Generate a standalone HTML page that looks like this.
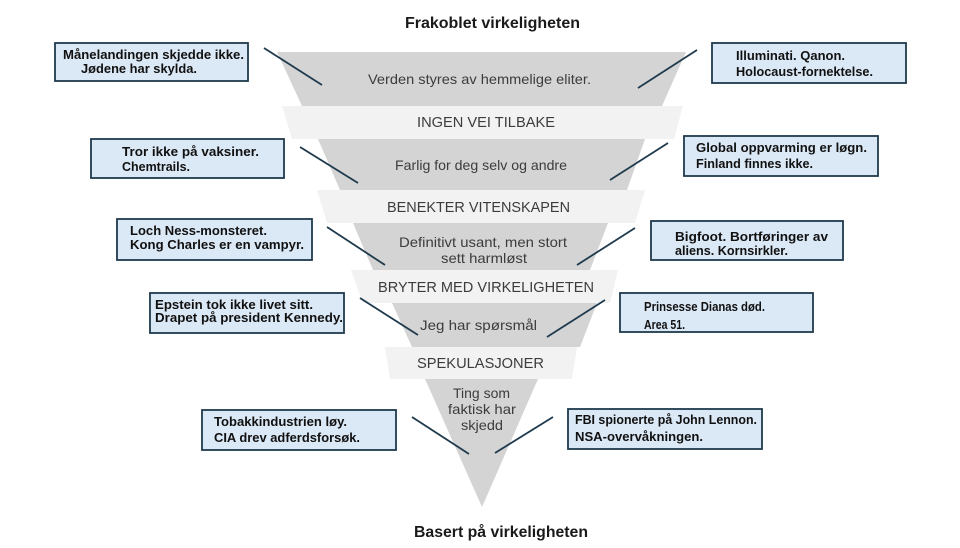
<!DOCTYPE html>
<html>
<head>
<meta charset="utf-8">
<style>
  html, body { margin: 0; padding: 0; background: #ffffff; }
  body { width: 960px; height: 548px; overflow: hidden; }
  svg { display: block; }
  .lbl { font-family: "Liberation Sans", "DejaVu Sans", sans-serif; fill: #3c3c3c; }
  .bx  { font-family: "Liberation Sans", "DejaVu Sans", sans-serif; font-weight: bold; fill: #111111; font-size: 13px; }
  .ttl { font-family: "Liberation Sans", "DejaVu Sans", sans-serif; font-weight: bold; fill: #1a1a1a; font-size: 15.5px; }
  .box { fill: #dbe8f6; stroke: #1f3a4d; stroke-width: 1.8; }
  .ln  { stroke: #1f3a4d; stroke-width: 1.8; fill: none; }
</style>
</head>
<body>
<svg width="960" height="548" viewBox="0 0 960 548" xmlns="http://www.w3.org/2000/svg">
  <!-- Titles -->
  <text class="ttl" x="405" y="28" textLength="175" lengthAdjust="spacingAndGlyphs">Frakoblet virkeligheten</text>
  <text class="ttl" x="414" y="537" textLength="174" lengthAdjust="spacingAndGlyphs">Basert på virkeligheten</text>

  <!-- Funnel -->
  <polygon points="277,52 686,52 662,106 302,106" fill="#d4d4d4"/>
  <polygon points="282,106 683,106 674,139 292,139" fill="#f2f2f2"/>
  <polygon points="318,139 645,139 627,190 340,190" fill="#d4d4d4"/>
  <polygon points="317,190 645,190 635,223 327,223" fill="#f2f2f2"/>
  <polygon points="353,223 608,223 590,270 373,270" fill="#d4d4d4"/>
  <polygon points="351,270 618,270 610,303 363,303" fill="#f2f2f2"/>
  <polygon points="392,303 597,303 580,347 412,347" fill="#d4d4d4"/>
  <polygon points="385,347 577,347 572,379 390,379" fill="#f2f2f2"/>
  <polygon points="425,379 538,379 482,507" fill="#d4d4d4"/>

  <!-- Funnel labels -->
  <text class="lbl" x="368" y="84" font-size="14" textLength="223" lengthAdjust="spacingAndGlyphs">Verden styres av hemmelige eliter.</text>
  <text class="lbl" x="417" y="127" font-size="14.5" textLength="138" lengthAdjust="spacingAndGlyphs">INGEN VEI TILBAKE</text>
  <text class="lbl" x="395" y="170" font-size="14" textLength="172" lengthAdjust="spacingAndGlyphs">Farlig for deg selv og andre</text>
  <text class="lbl" x="387" y="212" font-size="14.5" textLength="183" lengthAdjust="spacingAndGlyphs">BENEKTER VITENSKAPEN</text>
  <text class="lbl" x="399" y="247" font-size="14" textLength="168" lengthAdjust="spacingAndGlyphs">Definitivt usant, men stort</text>
  <text class="lbl" x="441" y="263" font-size="14" textLength="86" lengthAdjust="spacingAndGlyphs">sett harmløst</text>
  <text class="lbl" x="378" y="292" font-size="14.5" textLength="216" lengthAdjust="spacingAndGlyphs">BRYTER MED VIRKELIGHETEN</text>
  <text class="lbl" x="420" y="330" font-size="14" textLength="117" lengthAdjust="spacingAndGlyphs">Jeg har spørsmål</text>
  <text class="lbl" x="417" y="368" font-size="14.5" textLength="127" lengthAdjust="spacingAndGlyphs">SPEKULASJONER</text>
  <text class="lbl" x="453" y="398" font-size="14" textLength="57" lengthAdjust="spacingAndGlyphs">Ting som</text>
  <text class="lbl" x="448" y="414" font-size="14" textLength="68" lengthAdjust="spacingAndGlyphs">faktisk har</text>
  <text class="lbl" x="461" y="430" font-size="14" textLength="42" lengthAdjust="spacingAndGlyphs">skjedd</text>

  <!-- Connectors -->
  <line class="ln" x1="264" y1="48" x2="322" y2="85"/>
  <line class="ln" x1="300" y1="147" x2="358" y2="183"/>
  <line class="ln" x1="327" y1="227" x2="385" y2="265"/>
  <line class="ln" x1="360" y1="298" x2="418" y2="335"/>
  <line class="ln" x1="412" y1="417" x2="469" y2="454"/>
  <line class="ln" x1="697" y1="50" x2="638" y2="88"/>
  <line class="ln" x1="668" y1="143" x2="610" y2="180"/>
  <line class="ln" x1="635" y1="228" x2="577" y2="265"/>
  <line class="ln" x1="605" y1="300" x2="547" y2="337"/>
  <line class="ln" x1="553" y1="417" x2="495" y2="453"/>

  <!-- Left boxes -->
  <rect class="box" x="55" y="43" width="193" height="38"/>
  <text class="bx" x="63" y="59" textLength="181" lengthAdjust="spacingAndGlyphs">Månelandingen skjedde ikke.</text>
  <text class="bx" x="81" y="73" textLength="116" lengthAdjust="spacingAndGlyphs">Jødene har skylda.</text>

  <rect class="box" x="91" y="139" width="193" height="39"/>
  <text class="bx" x="122" y="156" textLength="137" lengthAdjust="spacingAndGlyphs">Tror ikke på vaksiner.</text>
  <text class="bx" x="122" y="171" textLength="68" lengthAdjust="spacingAndGlyphs">Chemtrails.</text>

  <rect class="box" x="117" y="219" width="195" height="41"/>
  <text class="bx" x="130" y="235" textLength="137" lengthAdjust="spacingAndGlyphs">Loch Ness-monsteret.</text>
  <text class="bx" x="130" y="249" textLength="174" lengthAdjust="spacingAndGlyphs">Kong Charles er en vampyr.</text>

  <rect class="box" x="150" y="293" width="194" height="40"/>
  <text class="bx" x="155" y="309" textLength="158" lengthAdjust="spacingAndGlyphs">Epstein tok ikke livet sitt.</text>
  <text class="bx" x="155" y="322" textLength="188" lengthAdjust="spacingAndGlyphs">Drapet på president Kennedy.</text>

  <rect class="box" x="202" y="410" width="194" height="40"/>
  <text class="bx" x="214" y="426" textLength="133" lengthAdjust="spacingAndGlyphs">Tobakkindustrien løy.</text>
  <text class="bx" x="214" y="442" textLength="146" lengthAdjust="spacingAndGlyphs">CIA drev adferdsforsøk.</text>

  <!-- Right boxes -->
  <rect class="box" x="712" y="43" width="194" height="40"/>
  <text class="bx" x="736" y="60" textLength="109" lengthAdjust="spacingAndGlyphs">Illuminati. Qanon.</text>
  <text class="bx" x="736" y="76" textLength="137" lengthAdjust="spacingAndGlyphs">Holocaust-fornektelse.</text>

  <rect class="box" x="684" y="136" width="194" height="40"/>
  <text class="bx" x="696" y="152" textLength="171" lengthAdjust="spacingAndGlyphs">Global oppvarming er løgn.</text>
  <text class="bx" x="696" y="168" textLength="117" lengthAdjust="spacingAndGlyphs">Finland finnes ikke.</text>

  <rect class="box" x="651" y="221" width="192" height="39"/>
  <text class="bx" x="675" y="241" textLength="153" lengthAdjust="spacingAndGlyphs">Bigfoot. Bortføringer av</text>
  <text class="bx" x="675" y="255" textLength="113" lengthAdjust="spacingAndGlyphs">aliens. Kornsirkler.</text>

  <rect class="box" x="620" y="293" width="193" height="39"/>
  <text class="bx" x="644" y="311" textLength="121" lengthAdjust="spacingAndGlyphs">Prinsesse Dianas død.</text>
  <text class="bx" x="644" y="329" textLength="41" lengthAdjust="spacingAndGlyphs">Area 51.</text>

  <rect class="box" x="568" y="409" width="194" height="40"/>
  <text class="bx" x="575" y="424" textLength="182" lengthAdjust="spacingAndGlyphs">FBI spionerte på John Lennon.</text>
  <text class="bx" x="575" y="441" textLength="128" lengthAdjust="spacingAndGlyphs">NSA-overvåkningen.</text>
</svg>
</body>
</html>
